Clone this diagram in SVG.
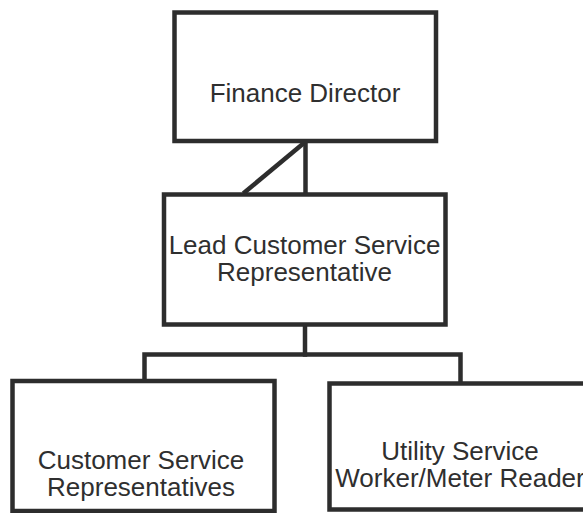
<svg xmlns="http://www.w3.org/2000/svg" width="583" height="513" viewBox="0 0 583 513">
  <style>
    .box { fill: #ffffff; stroke: #2d2d2d; stroke-width: 4.5; }
    .conn { fill: none; stroke: #2d2d2d; stroke-width: 4.5; stroke-linecap: square; }
    .lbl { font-family: "Liberation Sans", Arial, sans-serif; font-size: 26px; fill: #2f2f2f; text-anchor: middle; }
  </style>
  <rect width="583" height="513" fill="#ffffff"/>
  <g id="connectors">
    <line class="conn" x1="245" y1="192" x2="304" y2="143"/>
    <line class="conn" x1="305.5" y1="143" x2="305.5" y2="193"/>
    <polyline class="conn" points="305,325 305,354.5"/>
    <polyline class="conn" points="144.5,380 144.5,354.5 460.5,354.5 460.5,382"/>
  </g>
  <g id="finance-director">
    <rect class="box" x="174.5" y="12.5" width="261.5" height="128.5"/>
    <text class="lbl" x="305" y="102">Finance Director</text>
  </g>
  <g id="lead-csr">
    <rect class="box" x="164" y="194.5" width="281.5" height="130"/>
    <text class="lbl" x="304.5" y="254">Lead Customer Service</text>
    <text class="lbl" x="304.5" y="281">Representative</text>
  </g>
  <g id="csr">
    <rect class="box" x="12.5" y="381" width="262" height="130"/>
    <text class="lbl" x="141" y="469">Customer Service</text>
    <text class="lbl" x="141" y="496">Representatives</text>
  </g>
  <g id="utility-worker">
    <rect class="box" x="329.5" y="383.5" width="280" height="126"/>
    <text class="lbl" x="460" y="460">Utility Service</text>
    <text class="lbl" x="460" y="487">Worker/Meter Reader</text>
  </g>
</svg>
